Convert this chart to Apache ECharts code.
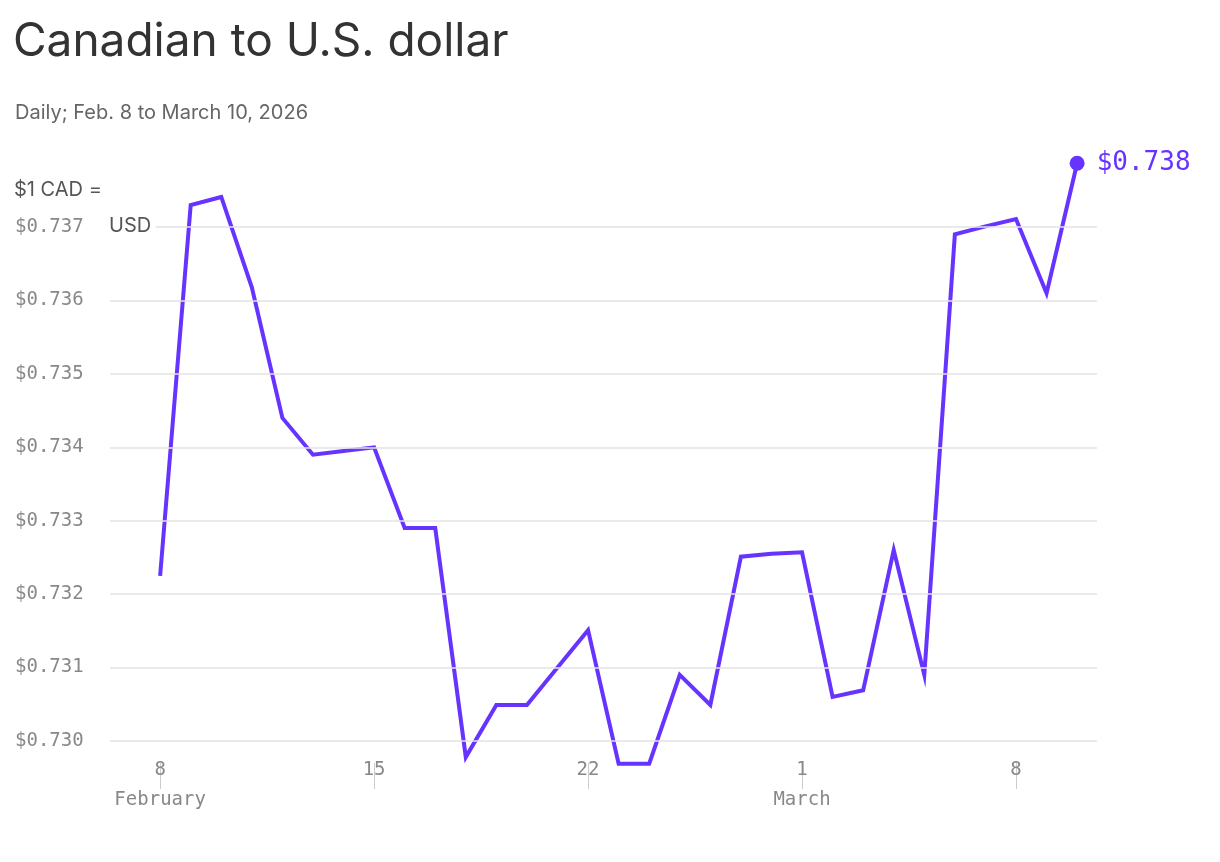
<!DOCTYPE html>
<html><head><meta charset="utf-8">
<script src="https://cdn.jsdelivr.net/npm/echarts@6/dist/echarts.min.js"></script>
<style>html,body{margin:0;background:#fff}#c{width:1220px;height:862px}</style>
</head><body><div id="c"></div>
<script>
// day index 0 = Feb 8, 2026 ... 30 = March 10
var days = [];
for (var i = 0; i <= 30; i++) days.push(i);
var rates = [0.73225, 0.73730, 0.73741, 0.73618, 0.73440, 0.73390, 0.73395, 0.73400,
  0.73290, 0.73290, 0.72978, 0.73049, 0.73049, 0.73100, 0.73151, 0.72969, 0.72969,
  0.73090, 0.73049, 0.73251, 0.73255, 0.73257, 0.73060, 0.73069, 0.73260, 0.73090,
  0.73690, 0.73701, 0.73711, 0.73610, 0.73787];
var yTicks = [0.730, 0.731, 0.732, 0.733, 0.734, 0.735, 0.736, 0.737];
var xTicks = [0, 7, 14, 21, 28];
var xTickLabels = {0: '8\nFebruary', 7: '15', 14: '22', 21: '1\nMarch', 28: '8'};

var mono = '"DejaVu Sans Mono", monospace';
var sans = 'Inter, "Noto Sans", sans-serif';
var purple = '#6633ff';

var chart = echarts.init(document.getElementById('c'));
var gridLines = yTicks.map(function (v) {
  var start = v === 0.737 ? -0.15 : -1.64;
  return [{coord: [start, v]}, {coord: [30.65, v]}];
});

chart.setOption({
  animation: false,
  title: [
    {text: 'Canadian to U.S. dollar', left: 8, top: 14,
      textStyle: {fontFamily: sans, fontSize: 46, fontWeight: 400, color: '#333'}},
    {text: 'Daily; Feb. 8 to March 10, 2026', left: 10, top: 98,
      textStyle: {fontFamily: sans, fontSize: 20, fontWeight: 400, color: '#666'}}
  ],
  graphic: [
    {type: 'text', left: 14, top: 180, style: {text: '$1 CAD =', font: '20px ' + sans, fill: '#555'}},
    {type: 'text', left: 109, top: 216, style: {text: 'USD', font: '20px ' + sans, fill: '#555'}}
  ],
  grid: {left: 110, right: 123, top: 161, bottom: 99},
  xAxis: {
    type: 'value', min: -1.64, max: 30.65,
    axisLine: {show: false},
    splitLine: {show: false},
    axisTick: {show: true, customValues: xTicks, length: 26, lineStyle: {color: '#ccc'}},
    axisLabel: {customValues: xTicks, margin: -8, lineHeight: 30,
      fontFamily: mono, fontSize: 19, color: '#888',
      formatter: function (v) { return xTickLabels[v] || ''; }}
  },
  yAxis: {
    type: 'value', min: 0.7297, max: 0.7379,
    axisLine: {show: false}, axisTick: {show: false}, splitLine: {show: false},
    axisLabel: {customValues: yTicks, align: 'left', margin: 95,
      fontFamily: mono, fontSize: 19, color: '#888',
      formatter: function (v) { return '$' + v.toFixed(3); }}
  },
  series: [{
    type: 'line', data: days.map(function (d, i) { return [d, rates[i]]; }),
    showSymbol: false, clip: false,
    lineStyle: {color: purple, width: 4, join: 'miter'},
    markLine: {silent: true, symbol: 'none', label: {show: false},
      lineStyle: {color: '#e3e3e3', width: 1.5, type: 'solid'}, data: gridLines},
    markPoint: {
      symbol: 'circle', symbolSize: 15, itemStyle: {color: purple},
      label: {show: true, position: 'right', distance: 12, fontFamily: mono, fontSize: 26, color: purple,
        formatter: function (p) { return '$' + p.value.toFixed(3); }},
      data: [{coord: [30, rates[30]], value: rates[30]}]
    }
  }]
});
</script></body></html>
